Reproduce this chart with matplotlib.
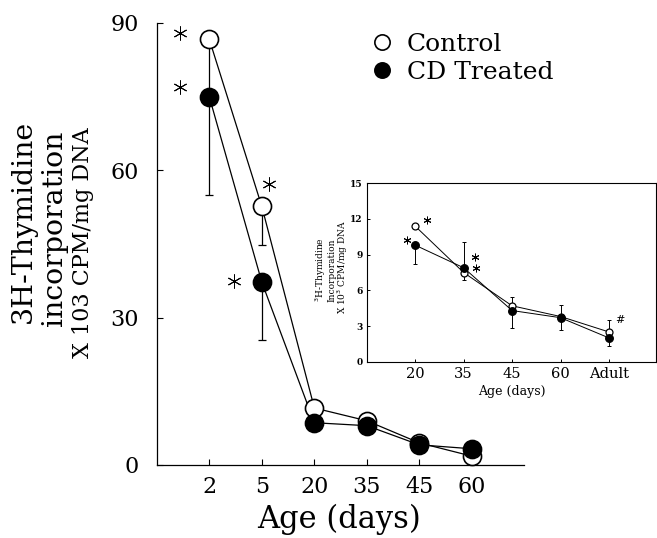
import numpy as np
import matplotlib.pyplot as plt
from matplotlib.lines import Line2D

plt.rcParams['font.family'] = 'DejaVu Serif'

# main panel data
ages = ["2", "5", "20", "35", "45", "60"]
control = [86.6, 52.6, 11.6, 9.0, 4.5, 1.8]
cd_treated = [74.9, 37.2, 8.6, 8.0, 4.1, 3.3]
control_err_lo = [10.6, 7.9, 0, 0, 0, 0]
cd_err_lo = [20.0, 11.8, 0, 0, 0, 0]
star_x = [0.44, 0.44, 2.14, 1.47]
star_y = [87.9, 76.9, 57.1, 37.5]

# inset data
inset_ages = ["20", "35", "45", "60", "Adult"]
inset_control = [11.4, 7.5, 4.7, 3.8, 2.5]
inset_cd = [9.8, 7.9, 4.3, 3.7, 2.0]
inset_control_lo = [0, 0.6, 0, 0, 0]
inset_control_hi = [0, 0, 0.7, 0, 1.0]
inset_cd_lo = [1.6, 0, 1.5, 1.0, 0.7]
inset_cd_hi = [0, 2.2, 0, 1.1, 0]
inset_star_x = [1.25, 0.83, 2.24, 2.26]
inset_star_y = [11.9, 10.2, 8.8, 7.85]

fig = plt.figure(figsize=(6.57, 5.38), dpi=100)

# ---- main axes ----
ax = fig.add_axes([0.2387, 0.1357, 0.5594, 0.8221])
x = np.arange(1, len(ages) + 1)
zeros = np.zeros(len(ages))

ax.plot(x, control, '-', color='k', lw=0.9, zorder=1)
ax.plot(x, cd_treated, '-', color='k', lw=0.9, zorder=1)
ax.errorbar(x, control, yerr=[control_err_lo, zeros], fmt='none', ecolor='k',
            elinewidth=0.9, capsize=3, capthick=0.9, zorder=1)
ax.errorbar(x, cd_treated, yerr=[cd_err_lo, zeros], fmt='none', ecolor='k',
            elinewidth=0.9, capsize=3, capthick=0.9, zorder=1)
ax.plot(x, control, 'o', mfc='white', mec='k', ms=13, mew=1.2, zorder=3, clip_on=False)
ax.plot(x, cd_treated, 'o', mfc='k', mec='k', ms=13, mew=1.2, zorder=4, clip_on=False)
ax.plot(star_x, star_y, ls='none', marker=(6, 2, 0), ms=10, mew=0.7, color='k', clip_on=False)

ax.set_xlim(0, 7)
ax.set_ylim(0, 90)
ax.set_xticks(x)
ax.set_xticklabels(ages)
ax.set_yticks([0, 30, 60, 90])
ax.tick_params(axis='y', direction='in', length=4, width=0.8, labelsize=16, pad=13)
ax.tick_params(axis='x', direction='in', length=4, width=0.8, labelsize=16, pad=8)
ax.spines['top'].set_visible(False)
ax.spines['right'].set_visible(False)
ax.spines['left'].set_linewidth(0.9)
ax.spines['bottom'].set_linewidth(0.9)

fig.text(339 / 657, 1 - 519 / 538, "Age (days)", fontsize=22, ha='center', va='center')
fig.text(0.036, 1 - 221 / 538, "3H-Thymidine", fontsize=20.5, rotation=90, ha='center', va='center')
fig.text(0.0837, 1 - 228 / 538, "incorporation", fontsize=20.5, rotation=90, ha='center', va='center')
fig.text(0.126, 1 - 243 / 538, "X 103 CPM/mg DNA", fontsize=16, rotation=90, ha='center', va='center')

handles = [
    Line2D([], [], ls='none', marker='o', mfc='white', mec='k', ms=11, mew=1.2),
    Line2D([], [], ls='none', marker='o', mfc='k', mec='k', ms=11, mew=1.2),
]
ax.legend(handles, ["Control", "CD Treated"], loc='upper left',
          bbox_to_anchor=(369.5 / 657, 1 - 33 / 538), bbox_transform=fig.transFigure,
          frameon=False, fontsize=18, handlelength=1.0, handletextpad=0.5,
          labelspacing=0.2, borderpad=0, borderaxespad=0)

# ---- inset ----
ins = fig.add_axes([366.7 / 657, 1 - 361.7 / 538, 289.3 / 657, 178.4 / 538])
xi = np.arange(1, len(inset_ages) + 1)
ins.plot(xi, inset_control, '-', color='k', lw=0.7, zorder=1)
ins.plot(xi, inset_cd, '-', color='k', lw=0.7, zorder=1)
ins.errorbar(xi, inset_control, yerr=[inset_control_lo, inset_control_hi], fmt='none',
             ecolor='k', elinewidth=0.7, capsize=1.5, capthick=0.7, zorder=1)
ins.errorbar(xi, inset_cd, yerr=[inset_cd_lo, inset_cd_hi], fmt='none',
             ecolor='k', elinewidth=0.7, capsize=1.5, capthick=0.7, zorder=1)
ins.plot(xi, inset_control, 'o', mfc='white', mec='k', ms=5, mew=0.9, zorder=3)
ins.plot(xi, inset_cd, 'o', mfc='k', mec='k', ms=5.5, mew=0.9, zorder=4)
ins.plot(inset_star_x, inset_star_y, ls='none', marker=(6, 2, 0), ms=5.5, mew=0.7, color='k')
ins.text(5.22, 3.5, "#", fontsize=8, ha='center', va='center', style='italic')

ins.set_xlim(0, 5.97)
ins.set_ylim(0, 15)
ins.set_xticks(xi)
ins.set_xticklabels(inset_ages)
ins.set_yticks([0, 3, 6, 9, 12, 15])
ins.tick_params(axis='y', direction='in', length=2.5, width=0.7, labelsize=6.5, pad=3)
ins.tick_params(axis='x', direction='in', length=2.5, width=0.7, labelsize=10.5, pad=4)
for lbl in ins.get_yticklabels():
    lbl.set_fontweight('bold')
for s in ins.spines.values():
    s.set_linewidth(0.8)

fig.text(512 / 657, 1 - 391 / 538, "Age (days)", fontsize=9, ha='center', va='center')
fig.text(321 / 657, 1 - 270 / 538, "$^3$H-Thymidine", fontsize=6.5, rotation=90, ha='center', va='center')
fig.text(332 / 657, 1 - 270 / 538, "Incorporation", fontsize=6.5, rotation=90, ha='center', va='center')
fig.text(343 / 657, 1 - 267 / 538, "X 10$^3$ CPM/mg DNA", fontsize=6.5, rotation=90, ha='center', va='center')

fig.savefig("out.png", dpi=100)
